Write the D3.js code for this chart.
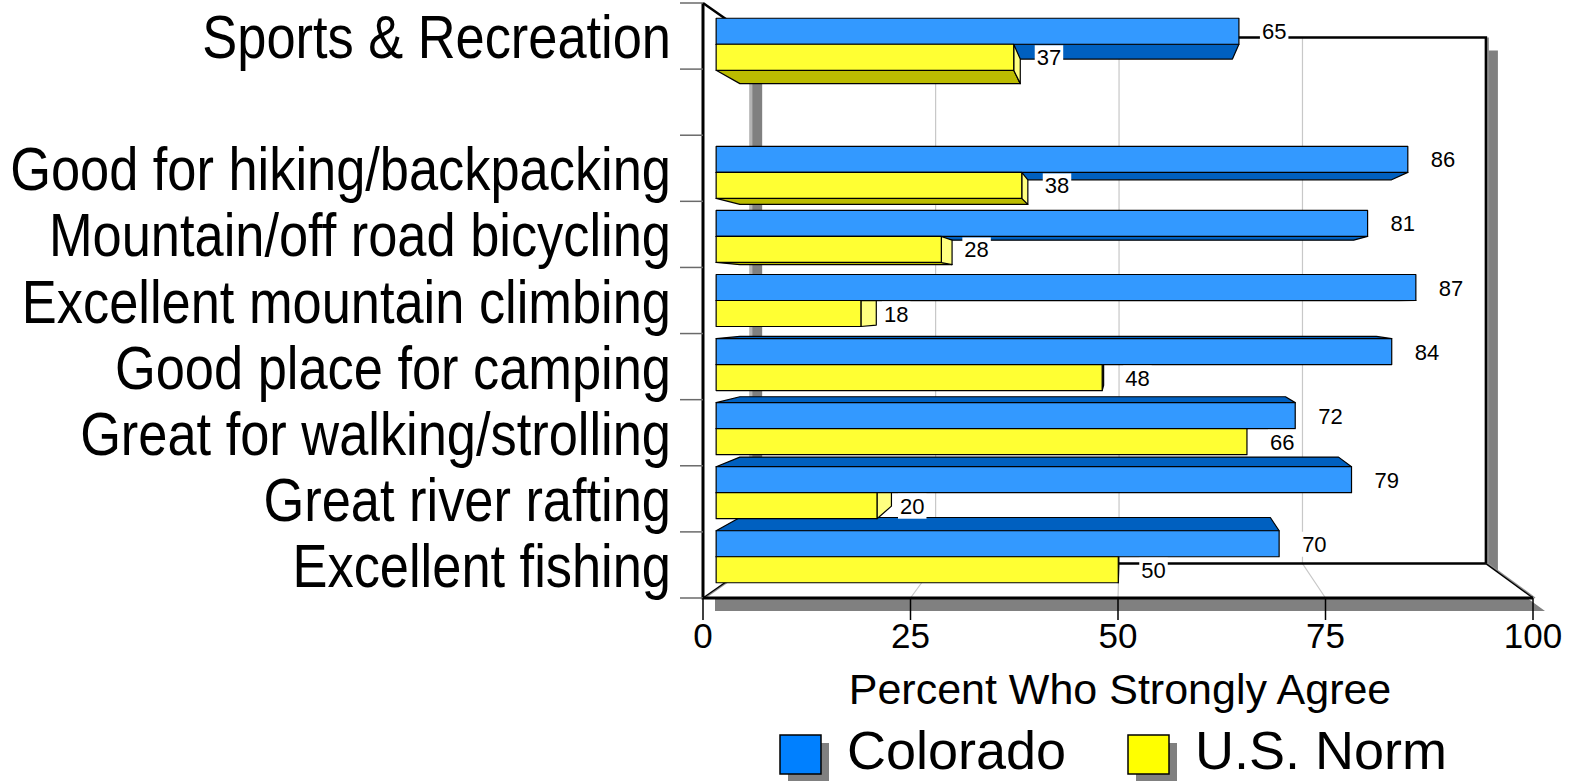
<!DOCTYPE html>
<html><head><meta charset="utf-8">
<script src="https://cdn.jsdelivr.net/npm/d3@7"></script>
<style>
html,body{margin:0;padding:0;background:#fff;}
svg{display:block;}
text{font-family:"Liberation Sans", Arial, sans-serif;fill:#000;}
</style></head><body>
<svg id="chart" width="1571" height="782"></svg>
<script>
// ---- data ----
const categories = [
  "Sports & Recreation",
  "Good for hiking/backpacking",
  "Mountain/off road bicycling",
  "Excellent mountain climbing",
  "Good place for camping",
  "Great for walking/strolling",
  "Great river rafting",
  "Excellent fishing"
];
const seriesNames = ["Colorado", "U.S. Norm"];
const colorado = [65, 86, 81, 87, 84, 72, 79, 70];
const usNorm   = [37, 38, 28, 18, 48, 66, 20, 50];
const xTicks = [0, 25, 50, 75, 100];
const axisTitle = "Percent Who Strongly Agree";

// row slots: the first category is set apart from the rest by an empty slot
const slots = [categories[0], "__gap__", ...categories.slice(1)];

// ---- styling ----
const fills = {
  "Colorado":  {front: "#3399FF", shade: "#0060C0", end: "#99CCFF", key: "#0080FF"},
  "U.S. Norm": {front: "#FFFF33", shade: "#BBBB00", end: "#FFFF80", key: "#FFFF00"}
};

const svg = d3.select("#chart");

// ---- scales (front plane of the 3-D box) ----
const x = d3.scaleLinear().domain([0, 100]).range([703, 1533]);
const y = d3.scaleBand().domain(slots).range([3, 598]).paddingInner(0.188).paddingOuter(0.094);
const ySeries = d3.scaleBand().domain(seriesNames).range([0, y.bandwidth()]);

// perspective: points shrink toward a vanishing point as depth grows
const VP = [1127, 301];
const K_BAR_FRONT = 0.969, K_BAR_BACK = 0.913, K_WALL = 0.884;
const proj = (xf, yf, k) => [VP[0] + k * (xf - VP[0]), VP[1] + k * (yf - VP[1])];
const poly = pts => "M" + pts.map(p => p.join(",")).join("L") + "Z";
const line = pts => "M" + pts.map(p => p.join(",")).join("L");

const X0 = x(0), X1 = x(100), Y0 = y.range()[0], Y1 = y.range()[1];
const fTL = [X0, Y0], fBL = [X0, Y1], fBR = [X1, Y1];
const bTL = proj(X0, Y0, K_WALL), bTR = proj(X1, Y0, K_WALL),
      bBR = proj(X1, Y1, K_WALL), bBL = proj(X0, Y1, K_WALL);

// ---- frame: drop shadow, walls, floor ----
const frame = svg.append("g");
const outline = [fTL, bTL, bTR, bBR, fBR, fBL];
frame.append("path").attr("d", poly(outline.map(p => [p[0] + 12, p[1] + 13])))
  .attr("fill", "#808080");
frame.append("path").attr("d", poly(outline)).attr("fill", "#fff");
// shadow strip along the back-left edge
frame.append("rect").attr("x", bTL[0] - 3).attr("y", bTL[1] + 13)
  .attr("width", 3).attr("height", bBL[1] - bTL[1] - 13).attr("fill", "#b4b4b4");
frame.append("rect").attr("x", bTL[0]).attr("y", bTL[1] + 13)
  .attr("width", 10).attr("height", bBL[1] - bTL[1] - 13).attr("fill", "#808080");

// gridlines across floor and back wall
xTicks.filter(v => v > 0 && v < 100).forEach(v => {
  frame.append("path")
    .attr("d", line([[x(v), Y1], proj(x(v), Y1, K_WALL), proj(x(v), Y0, K_WALL)]))
    .attr("fill", "none").attr("stroke", "#c8c8c8").attr("stroke-width", 1.2);
});

// frame edges
const edge = (pts, w, c) => frame.append("path").attr("d", line(pts))
  .attr("fill", "none").attr("stroke", c).attr("stroke-width", w).attr("stroke-linejoin", "miter");
edge([[fBL[0] + 2, fBL[1]], [bBL[0] + 2, bBL[1]]], 1.2, "#909090");
edge([fBL, bBL], 1.5, "#000");
edge([[bBR[0] + 2, bBR[1]], [fBR[0] + 2, fBR[1]]], 1.5, "#909090");
edge([bBR, fBR], 1.5, "#000");
edge([[bTR[0] + 2, bTR[1]], [bBR[0] + 2, bBR[1]]], 2, "#909090");
edge([fTL, bTL, bTR, bBR], 2.5, "#000");
edge([bBL, bBR], 2.5, "#000");
edge([fTL, fBL, fBR], 3, "#000");

// category-axis ticks at slot boundaries
const step = y.step();
d3.range(slots.length + 1).forEach(i => {
  const yy = Y0 + i * step;
  svg.append("line").attr("x1", 680).attr("x2", X0).attr("y1", yy).attr("y2", yy)
    .attr("stroke", "#6a6a6a").attr("stroke-width", 1.5);
});

// value-axis ticks and labels
const xAxis = svg.append("g");
xTicks.forEach(v => {
  xAxis.append("line").attr("x1", x(v)).attr("x2", x(v)).attr("y1", Y1).attr("y2", Y1 + 22)
    .attr("stroke", "#000").attr("stroke-width", 1.5);
  xAxis.append("text").attr("x", x(v)).attr("y", Y1 + 50)
    .attr("text-anchor", "middle").attr("font-size", 35).text(v);
});
svg.append("text").attr("x", 1120).attr("y", 704).attr("text-anchor", "middle")
  .attr("font-size", 43).text(axisTitle);

// ---- bars ----
const bars = [];
categories.forEach((c, i) => {
  [colorado[i], usNorm[i]].forEach((v, s) => {
    const name = seriesNames[s];
    const yf0 = y(c) + ySeries(name), yf1 = yf0 + ySeries.bandwidth();
    bars.push({cat: c, name, v, xf0: x(0), xf1: x(v), yf0, yf1});
  });
});
const gBars = svg.append("g").attr("stroke", "#000").attr("stroke-width", 1.2).attr("stroke-linejoin", "round");
const kA = K_BAR_FRONT, kB = K_BAR_BACK;
// horizontal faces (bottom when above the eye, top when below it)
bars.forEach(b => {
  let yy = null;
  if (b.yf1 < VP[1]) yy = b.yf1; else if (b.yf0 > VP[1]) yy = b.yf0;
  if (yy === null) return;
  gBars.append("path").attr("fill", fills[b.name].shade)
    .attr("d", poly([proj(b.xf0, yy, kA), proj(b.xf1, yy, kA), proj(b.xf1, yy, kB), proj(b.xf0, yy, kB)]));
});
// end faces, visible when the bar ends left of the eye
bars.forEach(b => {
  if (b.xf1 >= VP[0]) return;
  gBars.append("path").attr("fill", fills[b.name].end)
    .attr("d", poly([proj(b.xf1, b.yf0, kA), proj(b.xf1, b.yf1, kA), proj(b.xf1, b.yf1, kB), proj(b.xf1, b.yf0, kB)]));
});
// front faces
bars.forEach(b => {
  gBars.append("path").attr("fill", fills[b.name].front)
    .attr("d", poly([proj(b.xf0, b.yf0, kA), proj(b.xf1, b.yf0, kA), proj(b.xf1, b.yf1, kA), proj(b.xf0, b.yf1, kA)]));
});

// value labels with white backing
const gLab = svg.append("g");
bars.forEach(b => {
  const p = proj(b.xf1, (b.yf0 + b.yf1) / 2, kA);
  const t = gLab.append("text").attr("x", p[0] + 23).attr("y", p[1] + 8)
    .attr("font-size", 22).text(b.v);
  const bb = t.node().getBBox();
  gLab.insert("rect", () => t.node())
    .attr("x", bb.x - 2).attr("y", bb.y).attr("width", bb.width + 4).attr("height", bb.height)
    .attr("fill", "#fff");
});

// ---- category labels (condensed face) ----
const gCat = svg.append("g");
categories.forEach(c => {
  const cy = y(c) + y.bandwidth() / 2;
  gCat.append("text")
    .attr("transform", `translate(671,${cy + 22}) scale(0.845,1)`)
    .attr("text-anchor", "end").attr("font-size", 62).text(c);
});

// ---- legend ----
const legendItems = [
  {name: "Colorado", x: 780},
  {name: "U.S. Norm", x: 1128}
];
const gLeg = svg.append("g");
legendItems.forEach(d => {
  gLeg.append("rect").attr("x", d.x + 8).attr("y", 743).attr("width", 41).attr("height", 38).attr("fill", "#808080");
  gLeg.append("rect").attr("x", d.x).attr("y", 735).attr("width", 41).attr("height", 39)
    .attr("fill", fills[d.name].key).attr("stroke", "#000").attr("stroke-width", 1.5);
  gLeg.append("text").attr("transform", `translate(${d.x + 67},769) scale(1,1)`)
    .attr("font-size", 54).text(d.name);
});
</script>
</body></html>
